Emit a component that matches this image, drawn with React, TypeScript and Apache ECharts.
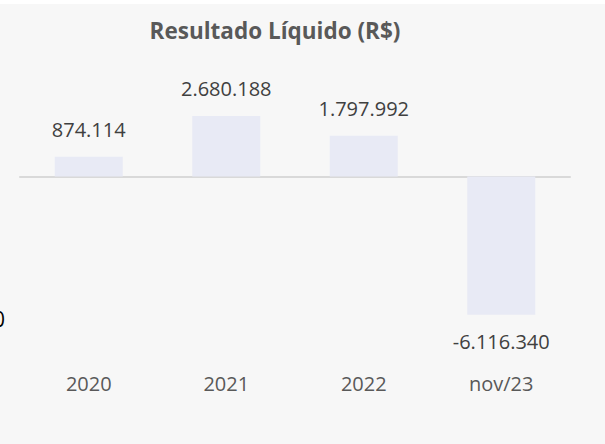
import React, { useEffect, useRef } from "react";
import * as echarts from "echarts";

const categories = ["2020", "2021", "2022", "nov/23"];
const values = [874114, 2680188, 1797992, -6116340];
const titleText = "Resultado Líquido (R$)";

function fmt(v: number): string {
  const s = Math.abs(Math.round(v)).toString().replace(/\B(?=(\d{3})+(?!\d))/g, ".");
  return (v < 0 ? "-" : "") + s;
}

export default function App() {
  const ref = useRef<HTMLDivElement>(null);
  useEffect(() => {
    if (!ref.current) return;
    const chart = echarts.init(ref.current, null, { renderer: "svg" });
    const font = "'Open Sans', sans-serif";
    chart.setOption({
      animation: false,
      backgroundColor: "#f7f7f7",
      graphic: [
        { type: "rect", shape: { x: 0, y: 0, width: 605, height: 4 }, style: { fill: "#ffffff" }, silent: true },
        {
          type: "text",
          x: 275,
          y: 30,
          style: {
            text: titleText,
            fontFamily: font,
            fontWeight: "bold",
            fontSize: 22.5,
            fill: "#595959",
            align: "center",
            verticalAlign: "middle",
          },
        },
        {
          type: "text",
          x: -7,
          y: 319,
          style: {
            text: "0",
            fontFamily: font,
            fontSize: 21,
            fill: "#000000",
            align: "left",
            verticalAlign: "middle",
          },
        },
      ],
      grid: { left: 20, right: 35, top: 97.4, height: 237.3 },
      xAxis: [
        {
          type: "category",
          data: categories,
          axisLine: { onZero: true, lineStyle: { color: "#d9d9d9", width: 2 } },
          axisTick: { show: false },
          axisLabel: { show: false },
        },
        {
          type: "category",
          data: categories,
          position: "bottom",
          axisLine: { show: false, onZero: false },
          axisTick: { show: false },
          axisLabel: { show: true, margin: 39, color: "#595959", fontFamily: font, fontSize: 20 },
        },
      ],
      yAxis: {
        type: "value",
        min: -7000000,
        max: 3500000,
        show: false,
        splitLine: { show: false },
      },
      series: [
        {
          type: "bar",
          xAxisIndex: 0,
          data: values.map((v) =>
            v < 0 ? { value: v, label: { position: "bottom" } } : v
          ),
          barWidth: 68,
          itemStyle: { color: "#e8eaf5" },
          label: {
            show: true,
            position: "top",
            distance: 17,
            color: "#404040",
            fontFamily: font,
            fontSize: 20,
            formatter: (p: any) => fmt(p.value),
          },
        },
      ],
    });
    return () => chart.dispose();
  }, []);
  return (
    <div style={{ position: "fixed", left: 0, top: 0, width: 605, height: 444 }}>
      <div ref={ref} style={{ width: 605, height: 444 }} />
    </div>
  );
}
